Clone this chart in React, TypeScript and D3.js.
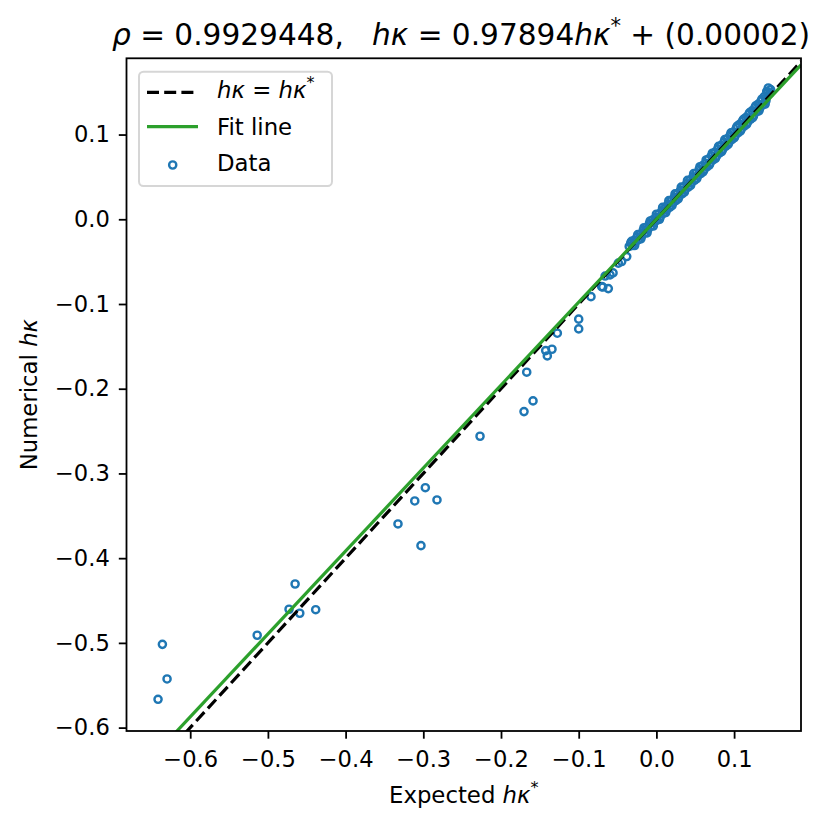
import * as d3 from 'd3'
import { useEffect, useRef } from 'react'

const W = 830
const H = 831
const margin = { top: 58.3, right: 29, bottom: 100, left: 126.5 }
const width = W - margin.left - margin.right
const height = H - margin.top - margin.bottom

const xDomain = [-0.682, 0.1861]
const yDomain = [-0.604, 0.19]
const xTicks = [-0.6, -0.5, -0.4, -0.3, -0.2, -0.1, 0.0, 0.1]
const yTicks = [-0.6, -0.5, -0.4, -0.3, -0.2, -0.1, 0.0, 0.1]

// fit line: hk = slope * hk* + intercept
const slope = 0.97894
const intercept = 0.00002

// expected hk* (x) and numerical hk (y)
const expected = [
  -0.6414, -0.6358, -0.6298, -0.5138, -0.4728, -0.465, -0.459, -0.4385,
  -0.3326, -0.311, -0.303, -0.2974, -0.2824, -0.227, -0.1704, -0.1669,
  -0.1588, -0.1425, -0.1404, -0.1344, -0.1275, -0.1, -0.1, -0.0842,
  -0.0704, -0.069, -0.0619, -0.066, -0.0597, -0.0558, -0.049, -0.0447,
  -0.0382,
  -0.035, -0.033, -0.031, -0.029, -0.027, -0.025, -0.023, -0.021, -0.019,
  -0.017, -0.015, -0.013, -0.011, -0.009, -0.007, -0.005, -0.003, -0.001,
  0.001, 0.003, 0.005, 0.007, 0.009, 0.011, 0.013, 0.015, 0.017, 0.019,
  0.021, 0.023, 0.025, 0.027, 0.029, 0.031, 0.033, 0.035, 0.037, 0.039,
  0.041, 0.043, 0.045, 0.047, 0.049, 0.051, 0.053, 0.055, 0.057, 0.059,
  0.061, 0.063, 0.065, 0.067, 0.069, 0.071, 0.073, 0.075, 0.077, 0.079,
  0.081, 0.083, 0.085, 0.087, 0.089, 0.091, 0.093, 0.095, 0.097, 0.099,
  0.101, 0.103, 0.105, 0.107, 0.109, 0.111, 0.113, 0.115, 0.117, 0.119,
  0.121, 0.123, 0.125, 0.127, 0.129, 0.131, 0.133, 0.135, 0.137, 0.139,
  0.141, 0.143, 0.144, 0.146, 0.147,
  -0.032, -0.028, -0.024, -0.020, -0.016, -0.012, -0.008, -0.004, 0.000,
  0.004, 0.008, 0.012, 0.016, 0.020, 0.024, 0.028, 0.032, 0.036, 0.040,
  0.044, 0.048, 0.052, 0.056, 0.060, 0.064, 0.068, 0.072, 0.076, 0.080,
  0.084, 0.088, 0.092, 0.096, 0.100, 0.104, 0.108, 0.112, 0.116, 0.120,
  0.124, 0.128, 0.132, 0.136, 0.140, 0.142,
]
const numerical = [
  -0.5666, -0.5017, -0.5426, -0.491, -0.4603, -0.4305, -0.465, -0.4608,
  -0.3596, -0.3325, -0.3852, -0.3168, -0.3313, -0.2561, -0.227, -0.1805,
  -0.2144, -0.155, -0.1613, -0.1534, -0.1345, -0.1179, -0.1294, -0.0913,
  -0.0795, -0.080, -0.0818, -0.067, -0.0656, -0.0633, -0.0518, -0.0499,
  -0.044,
  -0.032, -0.028, -0.031, -0.025, -0.027, -0.021, -0.024, -0.018, -0.020,
  -0.013, -0.016, -0.010, -0.012, -0.005, -0.008, -0.001, -0.004, 0.002,
  -0.001, 0.006, 0.003, 0.010, 0.007, 0.013, 0.011, 0.018, 0.014, 0.022,
  0.019, 0.026, 0.022, 0.030, 0.027, 0.034, 0.030, 0.038, 0.035, 0.042,
  0.038, 0.046, 0.043, 0.050, 0.046, 0.054, 0.051, 0.059, 0.054, 0.063,
  0.058, 0.066, 0.062, 0.071, 0.066, 0.075, 0.070, 0.079, 0.074, 0.083,
  0.078, 0.087, 0.082, 0.091, 0.086, 0.095, 0.090, 0.099, 0.094, 0.103,
  0.098, 0.108, 0.102, 0.112, 0.106, 0.116, 0.110, 0.120, 0.114, 0.124,
  0.118, 0.128, 0.122, 0.132, 0.127, 0.136, 0.131, 0.140, 0.135, 0.145,
  0.140, 0.150, 0.155, 0.149, 0.153,
  -0.026, -0.031, -0.018, -0.023, -0.010, -0.016, -0.002, -0.008, 0.006,
  0.000, 0.014, 0.008, 0.022, 0.016, 0.030, 0.024, 0.038, 0.032, 0.046,
  0.040, 0.054, 0.048, 0.062, 0.056, 0.070, 0.064, 0.078, 0.072, 0.086,
  0.080, 0.094, 0.088, 0.102, 0.096, 0.110, 0.104, 0.118, 0.112, 0.126,
  0.120, 0.134, 0.128, 0.142, 0.136, 0.151,
]

const BLUE = '#1f77b4'
const GREEN = '#2ca02c'
const FONT = 'DejaVu Sans'

export default function App() {
  const ref = useRef<SVGSVGElement>(null)

  useEffect(() => {
    const svg = d3.select(ref.current)
    svg.selectAll('*').remove()

    const x = d3.scaleLinear().domain(xDomain).range([0, width])
    const y = d3.scaleLinear().domain(yDomain).range([height, 0])

    svg
      .append('rect')
      .attr('width', W)
      .attr('height', H)
      .attr('fill', 'white')

    const g = svg
      .append('g')
      .attr('transform', `translate(${margin.left}, ${margin.top})`)

    g.append('clipPath')
      .attr('id', 'plot-clip')
      .append('rect')
      .attr('width', width)
      .attr('height', height)

    // scatter
    const pts = g.append('g').attr('clip-path', 'url(#plot-clip)')
    pts
      .selectAll('circle')
      .data(expected.map((e, i) => [e, numerical[i]]))
      .join('circle')
      .attr('cx', (d) => x(d[0]))
      .attr('cy', (d) => y(d[1]))
      .attr('r', 3.6)
      .attr('fill', 'none')
      .attr('stroke', BLUE)
      .attr('stroke-width', 2.4)

    // lines
    const lines = g.append('g').attr('clip-path', 'url(#plot-clip)')
    const line = d3
      .line<number>()
      .x((d) => x(d))
      .y((d) => y(d))
    lines
      .append('path')
      .attr('d', line(xDomain))
      .attr('fill', 'none')
      .attr('stroke', 'black')
      .attr('stroke-width', 3.2)
      .attr('stroke-dasharray', '12,5.2')
    const fit = d3
      .line<number>()
      .x((d) => x(d))
      .y((d) => y(slope * d + intercept))
    lines
      .append('path')
      .attr('d', fit(xDomain))
      .attr('fill', 'none')
      .attr('stroke', GREEN)
      .attr('stroke-width', 3.2)

    // axes
    const fmt = d3.format('.1f')
    const xAxis = d3
      .axisBottom(x)
      .tickValues(xTicks)
      .tickFormat((d) => fmt(d as number))
      .tickSize(7.7)
      .tickPadding(12.3)
    const yAxis = d3
      .axisLeft(y)
      .tickValues(yTicks)
      .tickFormat((d) => fmt(d as number))
      .tickSize(7.7)
      .tickPadding(9)
    const gx = g.append('g').attr('transform', `translate(0, ${height})`).call(xAxis)
    const gy = g.append('g').call(yAxis)
    ;[gx, gy].forEach((a) => {
      a.select('.domain').remove()
      a.selectAll('line').attr('stroke', 'black').attr('stroke-width', 1.8)
      a.selectAll('text')
        .attr('fill', 'black')
        .style('font-family', FONT)
        .style('font-size', '22.6px')
    })

    g.append('rect')
      .attr('width', width)
      .attr('height', height)
      .attr('fill', 'none')
      .attr('stroke', 'black')
      .attr('stroke-width', 1.8)

    // legend
    const lg = svg.append('g').style('font-family', FONT).style('font-size', '22.8px')
    lg.append('rect')
      .attr('x', 139)
      .attr('y', 71.7)
      .attr('width', 193)
      .attr('height', 114.3)
      .attr('rx', 4.5)
      .attr('fill', 'white')
      .attr('fill-opacity', 0.8)
      .attr('stroke', '#d6d6d6')
      .attr('stroke-width', 2)
    lg.append('line')
      .attr('x1', 147)
      .attr('x2', 198)
      .attr('y1', 92.3)
      .attr('y2', 92.3)
      .attr('stroke', 'black')
      .attr('stroke-width', 3.2)
      .attr('stroke-dasharray', '12,5.2')
    lg.append('line')
      .attr('x1', 147)
      .attr('x2', 198)
      .attr('y1', 126.7)
      .attr('y2', 126.7)
      .attr('stroke', GREEN)
      .attr('stroke-width', 3.2)
    lg.append('circle')
      .attr('cx', 172.7)
      .attr('cy', 165)
      .attr('r', 3.6)
      .attr('fill', 'none')
      .attr('stroke', BLUE)
      .attr('stroke-width', 2.4)
    const t1 = lg.append('text').attr('x', 217).attr('y', 97.5)
    t1.append('tspan').style('font-style', 'italic').text('hκ')
    t1.append('tspan').text(' = ')
    t1.append('tspan').style('font-style', 'italic').text('hκ')
    t1.append('tspan').attr('dy', -10).style('font-size', '16px').text('*')
    lg.append('text').attr('x', 217).attr('y', 135).text('Fit line')
    lg.append('text').attr('x', 217).attr('y', 171).text('Data')

    // title
    const title = svg
      .append('text')
      .attr('x', 461)
      .attr('y', 45)
      .attr('text-anchor', 'middle')
      .style('font-family', FONT)
      .style('font-size', '29.6px')
      .style('white-space', 'pre')
    title.append('tspan').style('font-style', 'italic').text('ρ')
    title.append('tspan').text(' = 0.9929448,   ')
    title.append('tspan').style('font-style', 'italic').text('hκ')
    title.append('tspan').text(' = 0.97894')
    title.append('tspan').style('font-style', 'italic').text('hκ')
    title.append('tspan').attr('dy', -12).style('font-size', '21px').text('*')
    title.append('tspan').attr('dy', 12).text(' + (0.00002)')

    // axis labels
    const xl = svg
      .append('text')
      .attr('x', margin.left + width / 2)
      .attr('y', 803)
      .attr('text-anchor', 'middle')
      .style('font-family', FONT)
      .style('font-size', '22.8px')
    xl.append('tspan').text('Expected ')
    xl.append('tspan').style('font-style', 'italic').text('hκ')
    xl.append('tspan').attr('dy', -10).style('font-size', '16px').text('*')

    const yl = svg
      .append('text')
      .attr('transform', `translate(37, ${margin.top + height / 2}) rotate(-90)`)
      .attr('text-anchor', 'middle')
      .style('font-family', FONT)
      .style('font-size', '22.8px')
    yl.append('tspan').text('Numerical ')
    yl.append('tspan').style('font-style', 'italic').text('hκ')
  }, [])

  return (
    <div style={{ position: 'absolute', left: 0, top: 0 }}>
      <svg ref={ref} width={W} height={H} style={{ display: 'block' }} />
    </div>
  )
}
